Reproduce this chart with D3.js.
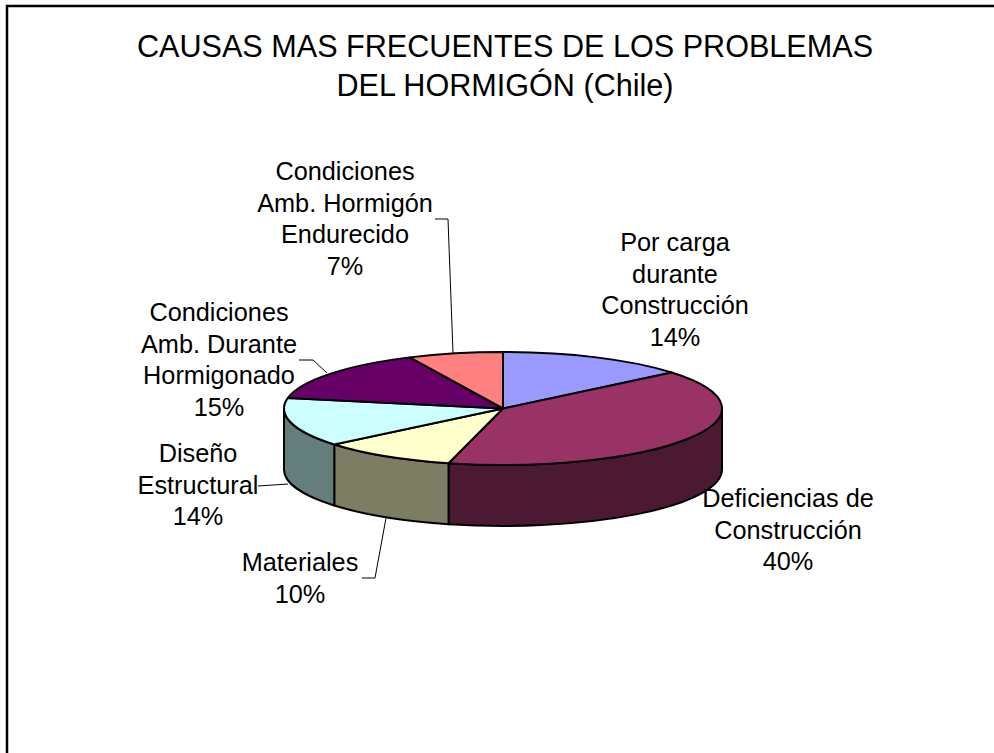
<!DOCTYPE html>
<html lang="es">
<head>
<meta charset="utf-8">
<title>Causas mas frecuentes de los problemas del hormigón</title>
<script src="https://d3js.org/d3.v7.min.js"></script>
<style>
html, body { margin: 0; background: white; }
svg { display: block; font-family: 'Liberation Sans', Arial, sans-serif; fill: black; }
.title { font-size: 30.6px; }
.label { font-size: 25.3px; }
.slice { stroke: black; stroke-width: 2px; stroke-linejoin: round; }
.leader { fill: none; stroke: black; stroke-width: 1px; }
.frame { fill: none; stroke: black; stroke-width: 2.5px; }
</style>
</head>
<body>
<div id="vis"></div>
<script>
// values
var titleLines = ['CAUSAS MAS FRECUENTES DE LOS PROBLEMAS', 'DEL HORMIGÓN (Chile)'];
var categories = [
    ['Por carga', 'durante', 'Construcción'],
    ['Deficiencias de', 'Construcción'],
    ['Materiales'],
    ['Diseño', 'Estructural'],
    ['Condiciones', 'Amb. Durante', 'Hormigonado'],
    ['Condiciones', 'Amb. Hormigón', 'Endurecido']
];
var values = [14, 40, 10, 14, 15, 7];

var colors = ['#9999ff', '#993366', '#ffffcc', '#ccffff', '#660066', '#ff8080'];

// label placement: centre x and baseline of the first line
var labelPos = [[675, 251], [788, 507], [300, 571], [198, 462], [219, 321], [345, 180]];
var leaders = [
    null,
    null,
    [[362, 578], [375, 578], [386, 518]],
    [[258, 486], [288, 484]],
    [[299, 360], [313, 360], [327, 373]],
    [[435, 219], [448, 219], [453, 353]]
];

var width = 994, height = 753;
var cx = 503, cy = 408.5, rx = 219, ry = 56.5, depth = 61;
var lineHeight = 31.7;

var svg = d3.select('#vis').append('svg')
    .attr('width', width)
    .attr('height', height);

svg.append('path')
    .attr('class', 'frame')
    .attr('d', 'M7,' + height + 'V6H' + width);

svg.selectAll('.title')
    .data(titleLines)
    .enter().append('text')
    .attr('class', 'title')
    .attr('text-anchor', 'middle')
    .attr('x', 505)
    .attr('y', function(d, i) { return 57 + i * 39; })
    .text(function(d) { return d; });

var pie = d3.pie().sort(null).startAngle(0).endAngle(2 * Math.PI);
var slices = pie(values);

function px(a) { return cx + rx * Math.sin(a); }
function py(a) { return cy - ry * Math.cos(a); }

function arcTo(a, dy) {
    return 'A' + rx + ',' + ry + ' 0 0,1 ' + px(a) + ',' + (py(a) + dy);
}

function topPath(d) {
    var large = d.endAngle - d.startAngle > Math.PI ? 1 : 0;
    return 'M' + cx + ',' + cy +
        'L' + px(d.startAngle) + ',' + py(d.startAngle) +
        'A' + rx + ',' + ry + ' 0 ' + large + ',1 ' + px(d.endAngle) + ',' + py(d.endAngle) + 'Z';
}

// only the front half of the rim is visible
var frontStart = Math.PI / 2, frontEnd = 3 * Math.PI / 2;

function sidePath(d) {
    var a0 = Math.max(d.startAngle, frontStart);
    var a1 = Math.min(d.endAngle, frontEnd);
    if (a1 <= a0) return null;
    return 'M' + px(a0) + ',' + py(a0) +
        arcTo(a1, 0) +
        'L' + px(a1) + ',' + (py(a1) + depth) +
        'A' + rx + ',' + ry + ' 0 0,0 ' + px(a0) + ',' + (py(a0) + depth) + 'Z';
}

svg.selectAll('.side')
    .data(slices.filter(function(d) { return sidePath(d); }))
    .enter().append('path')
    .attr('class', 'slice side')
    .attr('d', sidePath)
    .attr('fill', function(d) { return d3.rgb(colors[d.index]).darker(2).formatHex(); });

svg.selectAll('.top')
    .data(slices)
    .enter().append('path')
    .attr('class', 'slice top')
    .attr('d', topPath)
    .attr('fill', function(d) { return colors[d.index]; });

var line = d3.line();
svg.selectAll('.leader')
    .data(leaders.filter(function(d) { return d; }))
    .enter().append('path')
    .attr('class', 'leader')
    .attr('d', line);

var labels = svg.selectAll('.label')
    .data(slices)
    .enter().append('text')
    .attr('class', 'label')
    .attr('text-anchor', 'middle');

labels.selectAll('tspan')
    .data(function(d) {
        return categories[d.index].concat(d.value + '%').map(function(t) {
            return { text: t, pos: labelPos[d.index] };
        });
    })
    .enter().append('tspan')
    .attr('x', function(d) { return d.pos[0]; })
    .attr('y', function(d, i) { return d.pos[1] + i * lineHeight; })
    .text(function(d) { return d.text; });
</script>
</body>
</html>
